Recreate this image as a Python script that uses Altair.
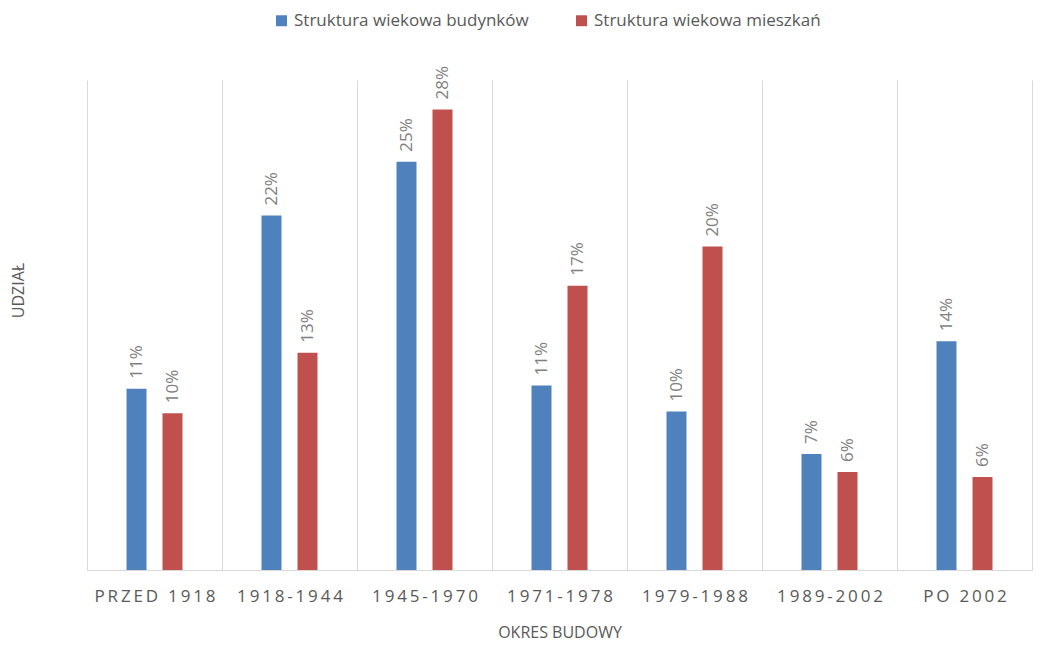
import altair as alt
import pandas as pd

periods = ["PRZED 1918", "1918-1944", "1945-1970", "1971-1978", "1979-1988", "1989-2002", "PO 2002"]
series = ["Struktura wiekowa budynków", "Struktura wiekowa mieszkań"]
budynki = [11.1, 21.7, 25.0, 11.3, 9.7, 7.1, 14.0]
mieszkania = [9.6, 13.3, 28.2, 17.4, 19.8, 6.0, 5.7]
colors = ["#4F81BD", "#C0504D"]

spaced = ["\u2009".join(p) for p in periods]

rows = []
for i, p in enumerate(spaced):
    rows.append({"okres": p, "seria": series[0], "udzial": budynki[i]})
    rows.append({"okres": p, "seria": series[1], "udzial": mieszkania[i]})
df = pd.DataFrame(rows)

grey = "#595959"
font = "Open Sans"

base = alt.Chart(df).encode(
    x=alt.X("okres:N", sort=spaced, title="OKRES BUDOWY",
            scale=alt.Scale(paddingInner=0, paddingOuter=0),
            axis=alt.Axis(labelAngle=0, labelFontSize=17, labelColor=grey, labelFont=font,
                          labelPadding=18, titleFontSize=16, titleColor=grey, titleFont=font,
                          titleFontWeight="normal", titlePadding=20, ticks=False,
                          domainColor="#d9d9d9", grid=True, gridColor="#d9d9d9",
                          tickBand="extent")),
    xOffset=alt.XOffset("seria:N", sort=series,
                        scale=alt.Scale(paddingInner=0.25, paddingOuter=1)),
    y=alt.Y("udzial:Q", title="UDZIAŁ", scale=alt.Scale(domain=[0, 30]),
            axis=alt.Axis(labels=False, ticks=False, domain=False, grid=False,
                          titleFontSize=16, titleColor=grey, titleFont=font,
                          titleFontWeight="normal", titleX=-69, titleY=210,
                          titleAngle=270, titleAlign="center", titleBaseline="middle")),
)

bars = base.mark_bar(width=20).encode(
    color=alt.Color("seria:N", sort=series, title=None,
                    scale=alt.Scale(domain=series, range=colors),
                    legend=alt.Legend(orient="none", legendX=186, legendY=-68,
                                      direction="horizontal", symbolType="square",
                                      symbolSize=120, symbolStrokeWidth=0,
                                      labelFontSize=17, labelColor=grey, labelFont=font,
                                      columnPadding=44, labelLimit=400))
)

labels = base.transform_calculate(
    lab="format(datum.udzial, '.0f') + '%'"
).mark_text(angle=270, align="left", baseline="middle", dx=10,
            fontSize=17, color="#7f7f7f", font=font).encode(text="lab:N")

chart = (bars + labels).properties(
    width=945, height=490,
    autosize=alt.AutoSizeParams(type="none"),
    padding={"left": 79, "top": 72, "right": 8, "bottom": 75},
).configure_view(stroke=None)

chart.save("out.html", embed_options={"renderer": "svg", "actions": False})
